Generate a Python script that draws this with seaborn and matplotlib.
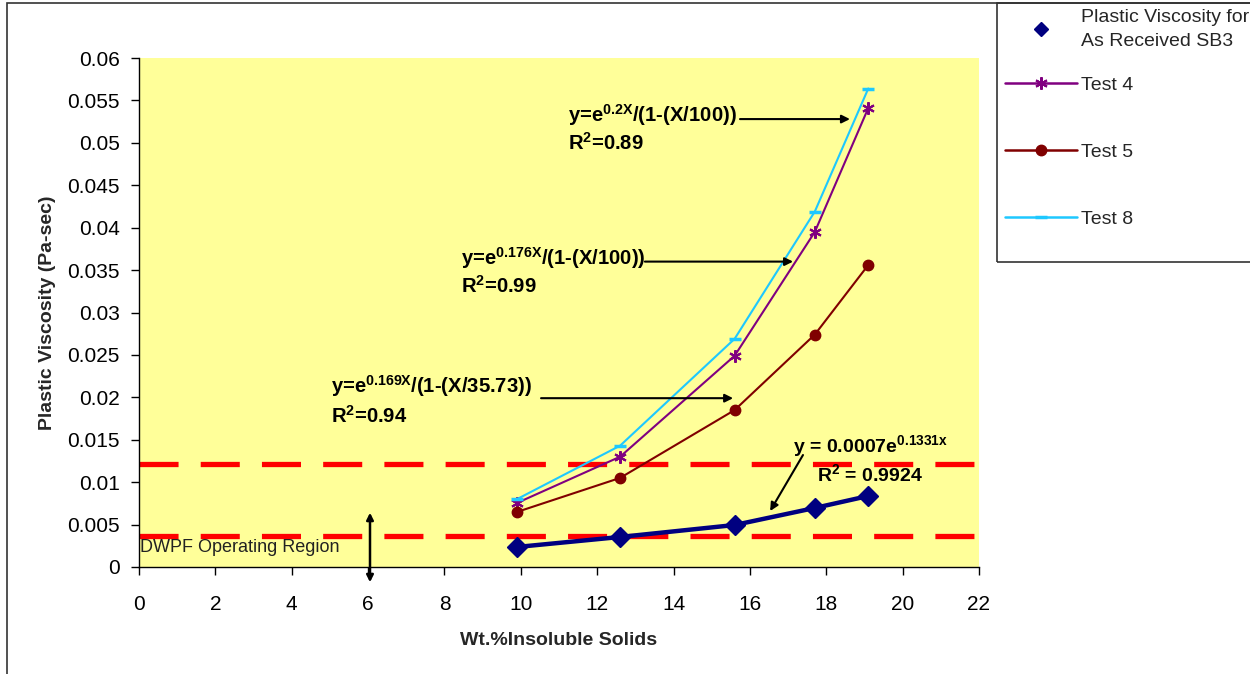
import numpy as np
import pandas as pd
import matplotlib
matplotlib.use("Agg")
import matplotlib.pyplot as plt
import seaborn as sns
from matplotlib.lines import Line2D
from matplotlib.patches import Rectangle

# ---------------- data ----------------
wt_solids = [9.9, 12.6, 15.6, 17.7, 19.1]
sb3_visc = [0.00236, 0.00354, 0.00495, 0.00696, 0.00837]
test4_visc = [0.00755, 0.0130, 0.0249, 0.0395, 0.0541]
test5_visc = [0.00649, 0.0105, 0.0185, 0.0274, 0.0356]
test8_visc = [0.0080, 0.0143, 0.0269, 0.0419, 0.0564]
dwpf_limits = [0.0037, 0.0122]
xtick_values = [0, 2, 4, 6, 8, 10, 12, 14, 16, 18, 20, 22]
ytick_values = [0, 0.005, 0.01, 0.015, 0.02, 0.025, 0.03, 0.035, 0.04, 0.045, 0.05, 0.055, 0.06]
ytick_labels = ["0", "0.005", "0.01", "0.015", "0.02", "0.025", "0.03", "0.035",
                "0.04", "0.045", "0.05", "0.055", "0.06"]
series_names = ["Plastic Viscosity for\nAs Received SB3", "Test 4", "Test 5", "Test 8"]

df = pd.DataFrame({
    "x": wt_solids * 4,
    "y": sb3_visc + test4_visc + test5_visc + test8_visc,
    "series": sum([[n] * len(wt_solids) for n in series_names], []),
})

sns.set_theme(style="ticks")
plt.rcParams["font.family"] = ["Liberation Sans", "DejaVu Sans"]
plt.rcParams["mathtext.fontset"] = "custom"
plt.rcParams["mathtext.rm"] = "Liberation Sans"
plt.rcParams["mathtext.bf"] = "Liberation Sans:bold"
plt.rcParams["mathtext.it"] = "Liberation Sans:italic"

W, H = 1250, 674
fig = plt.figure(figsize=(12.5, 6.74), dpi=100)
fig.patch.set_facecolor("white")
ax = fig.add_axes([139 / W, 1 - 567 / H, (979 - 139) / W, (567 - 58) / H])
ax.set_facecolor("#FFFF99")

styles = {
    series_names[0]: dict(color="#000080", marker="D", markersize=10, linewidth=3.2),
    series_names[1]: dict(color="#800080", marker=(6, 2, 0), markersize=9, linewidth=1.5,
                          markeredgewidth=1.5),
    series_names[2]: dict(color="#800000", marker="o", markersize=7.5, linewidth=1.5),
    series_names[3]: dict(color="#1EC8FF", marker="_", markersize=9, linewidth=1.5,
                          markeredgewidth=2.5),
}

# red dashed DWPF lines (drawn under the data)
ax.axhline(dwpf_limits[1], color="#FF0000", lw=3.8, linestyle=(0, (7.4, 4.2)), zorder=1)
ax.axhline(dwpf_limits[0], color="#FF0000", lw=3.8, linestyle=(0, (7.4, 4.2)), zorder=1)

for name in series_names:
    st = styles[name]
    sub = df[df["series"] == name]
    sns.lineplot(data=sub, x="x", y="y", ax=ax, color=st["color"], marker=st["marker"],
                 markersize=st["markersize"], linewidth=st["linewidth"],
                 markeredgecolor=st["color"], markerfacecolor=st["color"],
                 markeredgewidth=st.get("markeredgewidth", 1), zorder=3, legend=False)

ax.set_xlim(0, 22)
ax.set_ylim(0, 0.06)
ax.set_xticks(xtick_values)
ax.set_xticklabels([str(v) for v in xtick_values])
ax.set_yticks(ytick_values)
ax.set_yticklabels(ytick_labels)
ax.tick_params(axis="both", direction="out", length=6, width=1, colors="black",
               labelsize=15)
ax.tick_params(axis="x", pad=14)
ax.tick_params(axis="y", pad=8)
for s in ["top", "right"]:
    ax.spines[s].set_visible(False)
for s in ["left", "bottom"]:
    ax.spines[s].set_color("black")
    ax.spines[s].set_linewidth(1)
ax.set_xlabel("Wt.%Insoluble Solids", fontsize=14, fontweight="bold", labelpad=13)
ax.set_ylabel("Plastic Viscosity (Pa-sec)", fontsize=14, fontweight="bold", labelpad=8)

# equations
def eq(x, y, s, fs=14.6):
    ax.text(x, y, s, fontsize=fs, fontweight="bold", ha="left", va="baseline", color="black")

eq(11.24, 0.0525, r"y=e$^{\mathbf{0.2X}}$/(1-(X/100))")
eq(11.24, 0.0492, r"R$^{\mathbf{2}}$=0.89")
eq(8.43, 0.0356, r"y=e$^{\mathbf{0.176X}}$/(1-(X/100))")
eq(8.43, 0.0323, r"R$^{\mathbf{2}}$=0.99")
eq(5.03, 0.0205, r"y=e$^{\mathbf{0.169X}}$/(1-(X/35.73))")
eq(5.03, 0.0170, r"R$^{\mathbf{2}}$=0.94")
eq(17.13, 0.01356, r"y = 0.0007e$^{\mathbf{0.1331x}}$", fs=14)
eq(17.76, 0.01014, r"R$^{\mathbf{2}}$ = 0.9924", fs=14)

arr = dict(arrowstyle="-|>", color="black", lw=1.5, mutation_scale=12, shrinkA=0, shrinkB=0)
ax.annotate("", xy=(18.62, 0.0528), xytext=(15.74, 0.0528), arrowprops=arr)
ax.annotate("", xy=(17.13, 0.0360), xytext=(13.25, 0.0360), arrowprops=arr)
ax.annotate("", xy=(15.56, 0.0199), xytext=(10.53, 0.0199), arrowprops=arr)
ax.annotate("", xy=(16.53, 0.0066), xytext=(17.39, 0.0132), arrowprops=arr)

ax.text(0.03, 0.00177, "DWPF Operating Region", fontsize=13, ha="left", va="baseline",
        color="#222222")
ax.annotate("", xy=(6.05, 0.0064), xytext=(6.05, -0.0018), annotation_clip=False,
            arrowprops=dict(arrowstyle="<|-|>", color="black", lw=1.8, mutation_scale=10,
                            shrinkA=0, shrinkB=0))

# legend
handles = []
for name in series_names:
    st = styles[name]
    ls = "none" if name == series_names[0] else "-"
    handles.append(Line2D([], [], color=st["color"], marker=st["marker"],
                          markersize=st["markersize"] * (0.75 if name == series_names[0] else 1),
                          linestyle=ls, linewidth=1.8,
                          markeredgewidth=st.get("markeredgewidth", 1),
                          markerfacecolor=st["color"], markeredgecolor=st["color"]))
leg_kw = dict(loc="upper left", borderaxespad=0, frameon=False, fontsize=14,
              handlelength=3.7, handletextpad=0.2, borderpad=0.2)
leg1 = fig.legend(handles[:1], series_names[:1], bbox_to_anchor=(1001 / W, 1 - 5 / H),
                  **leg_kw)
for t in leg1.get_texts():
    t.set_linespacing(1.55)
leg2 = fig.legend(handles[1:], series_names[1:], bbox_to_anchor=(1001 / W, 1 - 72 / H),
                  labelspacing=2.55, **leg_kw)

# frames
fig.add_artist(Rectangle((7 / W, -0.05), 1.1, 1 - 3 / H + 0.05, transform=fig.transFigure,
                         fill=False, edgecolor="#333333", lw=1.2))
fig.add_artist(Rectangle((997 / W, 1 - 262 / H), 0.5, (262 - 3) / H, transform=fig.transFigure,
                         fill=False, edgecolor="#333333", lw=1.2))

fig.savefig("out.png", dpi=100)
